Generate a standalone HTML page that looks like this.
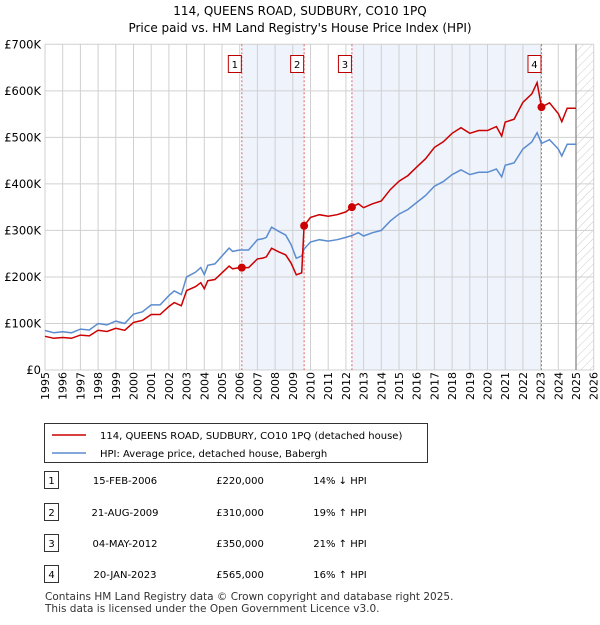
<!DOCTYPE html>
<html><head><meta charset="utf-8"><style>
body{margin:0;background:#fff;font-family:"Liberation Sans","DejaVu Sans",sans-serif;}
svg text{font-family:"DejaVu Sans","Liberation Sans",sans-serif;}
</style></head><body>
<svg id="c" width="600" height="620" viewBox="0 0 600 620" xmlns="http://www.w3.org/2000/svg">
<text x="300" y="15" text-anchor="middle" font-size="12">114, QUEENS ROAD, SUDBURY, CO10 1PQ</text>
<text x="300" y="32" text-anchor="middle" font-size="12">Price paid vs. HM Land Registry's House Price Index (HPI)</text>
<g id="plot"></g>
<g>
<rect x="44.5" y="423.5" width="383" height="39" fill="#fff" stroke="#333"/>
<line x1="52" y1="435" x2="86" y2="435" stroke="#cc0000" stroke-width="1.5"/>
<text x="100" y="439" font-size="10">114, QUEENS ROAD, SUDBURY, CO10 1PQ (detached house)</text>
<line x1="52" y1="453" x2="86" y2="453" stroke="#5b8ccf" stroke-width="1.5"/>
<text x="100" y="457" font-size="10">HPI: Average price, detached house, Babergh</text>
</g>
<g id="tbl" font-size="10"></g>
<text x="45" y="600" font-size="10.5" fill="#333">Contains HM Land Registry data © Crown copyright and database right 2025.</text>
<text x="45" y="612" font-size="10.5" fill="#333">This data is licensed under the Open Government Licence v3.0.</text>
</svg>
<script>
const hpiYears=[1995,1995.5,1996,1996.5,1997,1997.5,1998,1998.5,1999,1999.5,2000,2000.5,2001,2001.5,2002,2002.3,2002.7,2003,2003.5,2003.8,2004,2004.2,2004.6,2005,2005.4,2005.6,2006,2006.5,2007,2007.3,2007.5,2007.8,2008.2,2008.6,2008.9,2009.2,2009.5,2009.64,2010,2010.5,2011,2011.5,2012,2012.34,2012.7,2013,2013.5,2014,2014.5,2015,2015.5,2016,2016.5,2017,2017.5,2018,2018.5,2019,2019.5,2020,2020.5,2020.8,2021,2021.5,2022,2022.5,2022.8,2023.05,2023.5,2024,2024.2,2024.5,2025];
const hpiValues=[85,80,82,80,88,86,100,97,105,100,120,125,140,140,160,170,162,200,210,220,205,225,228,245,262,255,258,258,280,282,285,307,298,290,270,240,245,260,275,280,277,280,285,289,295,288,295,300,320,335,345,360,375,395,405,420,430,420,425,425,432,415,440,445,475,490,510,487,495,475,460,485,485];
const saleLabels=["1","2","3","4"];
const saleDates=[2006.12,2009.64,2012.34,2023.05];
const saleDateText=["15-FEB-2006","21-AUG-2009","04-MAY-2012","20-JAN-2023"];
const salePrices=[220,310,350,565];
const salePriceText=["£220,000","£310,000","£350,000","£565,000"];
const saleHpiText=["14% ↓ HPI","19% ↑ HPI","21% ↑ HPI","16% ↑ HPI"];
const yTicks=[0,100,200,300,400,500,600,700];
const yTickLabels=["£0","£100K","£200K","£300K","£400K","£500K","£600K","£700K"];
const xTicks=[1995,1996,1997,1998,1999,2000,2001,2002,2003,2004,2005,2006,2007,2008,2009,2010,2011,2012,2013,2014,2015,2016,2017,2018,2019,2020,2021,2022,2023,2024,2025,2026];

const NS="http://www.w3.org/2000/svg";
const X0=45,X1=593.7,Y0=370,Y1=44.3;
const xs=y=>X0+(y-1995)/(2026-1995)*(X1-X0);
const ys=v=>Y0-(v/700)*(Y0-Y1);
const plot=document.getElementById('plot');
function mk(tag,attrs,parent){const e=document.createElementNS(NS,tag);for(const k in attrs)e.setAttribute(k,attrs[k]);(parent||plot).appendChild(e);return e;}
function hpiAt(t){for(let i=0;i<hpiYears.length-1;i++){if(t<=hpiYears[i+1]){const f=(t-hpiYears[i])/(hpiYears[i+1]-hpiYears[i]);return hpiValues[i]+f*(hpiValues[i+1]-hpiValues[i]);}}return hpiValues[hpiValues.length-1];}

// shaded spans
for(let i=0;i<saleDates.length;i+=2){
  const end=i+1<saleDates.length?saleDates[i+1]:2025;
  const r=mk('rect',{x:xs(saleDates[i]),y:Y1,width:xs(end)-xs(saleDates[i]),height:Y0-Y1,fill:'#eef3fc'});
  
  
}
// hatch
const defs=mk('defs',{});
const pat=mk('pattern',{id:'h',width:6,height:6,patternUnits:'userSpaceOnUse',patternTransform:'rotate(45)'},defs);
mk('line',{x1:0,y1:0,x2:0,y2:6,stroke:'#ccc','stroke-width':1},pat);
const hr=mk('rect',{x:xs(2025),y:Y1,width:X1-xs(2025),height:Y0-Y1,fill:'url(#h)'});


// grid
xTicks.forEach(t=>{
  const l=mk('line',{x1:xs(t),x2:xs(t),y1:Y1,y2:Y0,stroke:'#d0d0d0','stroke-width':1});
  
  
  const tx=mk('text',{x:0,y:0,'font-size':11,transform:`translate(${xs(t)+4},${Y0+30}) rotate(-90)`});
  tx.textContent=t;
  
  
});
yTicks.forEach((v,i)=>{
  const l=mk('line',{x1:X0,x2:X1,y1:ys(v),y2:ys(v),stroke:'#d0d0d0','stroke-width':1});
  
  
  const tx=mk('text',{x:41,y:ys(v)+4,'font-size':11.5,'text-anchor':'end'});
  tx.textContent=yTickLabels[i];
  
  
});
const vl=mk('line',{x1:xs(2025),x2:xs(2025),y1:Y1,y2:Y0,stroke:'#999','stroke-width':1.5});


// sale lines
saleDates.forEach((d,i)=>{
  const l=mk('line',{x1:xs(d),x2:xs(d),y1:Y1,y2:Y0,stroke:'#e06060','stroke-width':1,'stroke-dasharray':'2,2'});
  
  
  const g=mk('g',{});
  
  
  mk('rect',{x:xs(d)-13.5,y:55.5,width:13,height:17,fill:'#fff',stroke:'#b00'},g);
  const t=mk('text',{x:xs(d)-7,y:68,'font-size':10,'text-anchor':'middle'},g);
  t.textContent=saleLabels[i];
});
// HPI line
let p='';hpiYears.forEach((y,i)=>{p+=(i?'L':'M')+xs(y).toFixed(1)+','+ys(hpiValues[i]).toFixed(1);});
const hl=mk('path',{d:p,fill:'none',stroke:'#5b8ccf','stroke-width':1.5});


// Property line: HPI scaled by sale ratio
function ratioAt(t){let k=0;for(let i=0;i<saleDates.length;i++)if(t>=saleDates[i]-1e-6)k=i;return salePrices[k]/hpiAt(saleDates[k]);}
let pts=[];
hpiYears.forEach((y,i)=>{
  saleDates.forEach(d=>{ if(i>0&&d>hpiYears[i-1]&&d<y){pts.push([d,hpiAt(d)*ratioAt(d-1e-4)]);pts.push([d,hpiAt(d)*ratioAt(d)]);} });
  pts.push([y,hpiValues[i]*ratioAt(y)]);
});
let q='';pts.forEach((pt,i)=>{q+=(i?'L':'M')+xs(pt[0]).toFixed(1)+','+ys(pt[1]).toFixed(1);});
const rl=mk('path',{d:q,fill:'none',stroke:'#cc0000','stroke-width':1.5});


saleDates.forEach((d,i)=>{
  const c=mk('circle',{cx:xs(d),cy:ys(salePrices[i]),r:4,fill:'#cc0000'});
  
  
});
// table
const tbl=document.getElementById('tbl');
const rowY=[482,514,545,576];
saleLabels.forEach((lab,i)=>{
  const g=mk('g',{},tbl);
  
  
  mk('rect',{x:44.5,y:rowY[i]-10.5,width:14,height:17,fill:'#fff',stroke:'#333'},g);
  const a=mk('text',{x:51.5,y:rowY[i]+2,'text-anchor':'middle'},g);a.textContent=lab;
  const b=mk('text',{x:125,y:rowY[i]+2,'text-anchor':'middle'},g);b.textContent=saleDateText[i];
  const c=mk('text',{x:240,y:rowY[i]+2,'text-anchor':'middle'},g);c.textContent=salePriceText[i];
  const d=mk('text',{x:340,y:rowY[i]+2,'text-anchor':'middle'},g);d.textContent=saleHpiText[i];
});
</script>
</body></html>
